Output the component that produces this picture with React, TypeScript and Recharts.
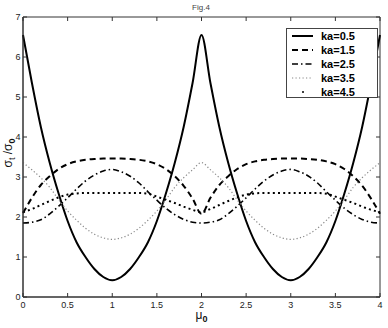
import React from 'react';
import { LineChart, Line, XAxis, YAxis, ReferenceArea } from 'recharts';

// mu_0 samples
const mu = [
  0, 0.1, 0.2, 0.3, 0.4, 0.5, 0.6, 0.7, 0.8, 0.9, 1.0,
  1.1, 1.2, 1.3, 1.4, 1.5, 1.6, 1.7, 1.8, 1.9, 2.0,
  2.1, 2.2, 2.3, 2.4, 2.5, 2.6, 2.7, 2.8, 2.9, 3.0,
  3.1, 3.2, 3.3, 3.4, 3.5, 3.6, 3.7, 3.8, 3.9, 4.0,
];

// sigma_t / sigma_0 for each ka
const ka05 = [
  6.55, 5.35, 4.25, 3.35, 2.58, 1.9, 1.37, 1.0, 0.7, 0.5, 0.42,
  0.5, 0.7, 1.0, 1.37, 1.9, 2.58, 3.35, 4.25, 5.35, 6.55,
  5.35, 4.25, 3.35, 2.58, 1.9, 1.37, 1.0, 0.7, 0.5, 0.42,
  0.5, 0.7, 1.0, 1.37, 1.9, 2.58, 3.35, 4.25, 5.35, 6.55,
];
const ka15 = [
  2.1, 2.48, 2.8, 3.02, 3.2, 3.32, 3.39, 3.43, 3.45, 3.46, 3.46,
  3.46, 3.45, 3.43, 3.39, 3.32, 3.2, 3.02, 2.78, 2.46, 2.08,
  2.48, 2.8, 3.02, 3.2, 3.32, 3.39, 3.43, 3.45, 3.46, 3.46,
  3.46, 3.45, 3.43, 3.39, 3.32, 3.2, 3.02, 2.78, 2.46, 2.08,
];
const ka25 = [
  1.85, 1.87, 1.93, 2.08, 2.27, 2.48, 2.7, 2.9, 3.05, 3.15, 3.19,
  3.13, 3.02, 2.85, 2.63, 2.42, 2.22, 2.06, 1.94, 1.87, 1.85,
  1.87, 1.93, 2.08, 2.27, 2.48, 2.7, 2.9, 3.05, 3.15, 3.19,
  3.13, 3.02, 2.85, 2.63, 2.42, 2.22, 2.06, 1.94, 1.87, 1.85,
];
const ka35 = [
  3.36, 3.18, 2.98, 2.74, 2.43, 2.15, 1.92, 1.72, 1.57, 1.48, 1.44,
  1.48, 1.57, 1.72, 1.92, 2.15, 2.43, 2.74, 2.98, 3.18, 3.36,
  3.18, 2.98, 2.74, 2.43, 2.15, 1.92, 1.72, 1.57, 1.48, 1.44,
  1.48, 1.57, 1.72, 1.92, 2.15, 2.43, 2.74, 2.98, 3.18, 3.36,
];
const ka45 = [
  2.12, 2.2, 2.3, 2.4, 2.49, 2.56, 2.59, 2.6, 2.6, 2.6, 2.6,
  2.6, 2.6, 2.6, 2.58, 2.51, 2.43, 2.35, 2.26, 2.18, 2.12,
  2.2, 2.3, 2.4, 2.49, 2.56, 2.59, 2.6, 2.6, 2.6, 2.6,
  2.6, 2.6, 2.6, 2.58, 2.51, 2.43, 2.35, 2.26, 2.18, 2.12,
];

const xTicks = [0, 0.5, 1, 1.5, 2, 2.5, 3, 3.5, 4];
const yTicks = [0, 1, 2, 3, 4, 5, 6, 7];

const data = mu.map((m, i) => ({
  mu: m,
  ka05: ka05[i],
  ka15: ka15[i],
  ka25: ka25[i],
  ka35: ka35[i],
  ka45: ka45[i],
}));

const W = 388;
const H = 328;
const margin = { top: 17, right: 8, bottom: 0, left: 0 };
const Y_AXIS_W = 23;
const X_AXIS_H = 31;
const PLOT_TOP = margin.top;
const PLOT_BOTTOM = H - margin.bottom - X_AXIS_H;
const PLOT_LEFT = margin.left + Y_AXIS_W;
const PLOT_RIGHT = W - margin.right;
const FONT = '"Liberation Sans", Arial, sans-serif';

const series = [
  { key: 'ka05', name: 'ka=0.5', stroke: '#000', width: 2, dash: undefined },
  { key: 'ka15', name: 'ka=1.5', stroke: '#000', width: 2, dash: '6 4' },
  { key: 'ka25', name: 'ka=2.5', stroke: '#000', width: 1.6, dash: '6 3 1.5 3' },
  { key: 'ka35', name: 'ka=3.5', stroke: '#888', width: 1.2, dash: '1.2 2.3' },
  { key: 'ka45', name: 'ka=4.5', stroke: '#000', width: 2, dash: '2 3.2' },
];

const XTick: React.FC<any> = ({ x, payload }) => (
  <g>
    <line x1={x} y1={PLOT_BOTTOM} x2={x} y2={PLOT_BOTTOM - 4} stroke="#333" />
    <line x1={x} y1={PLOT_TOP} x2={x} y2={PLOT_TOP + 4} stroke="#333" />
    <text x={x} y={PLOT_BOTTOM + 10.5} textAnchor="middle" fontSize={9} fill="#222" fontFamily={FONT}>
      {payload.value}
    </text>
  </g>
);

const YTick: React.FC<any> = ({ y, payload }) => (
  <g>
    <line x1={PLOT_LEFT} y1={y} x2={PLOT_LEFT + 4} y2={y} stroke="#333" />
    <line x1={PLOT_RIGHT} y1={y} x2={PLOT_RIGHT - 4} y2={y} stroke="#333" />
    <text x={PLOT_LEFT - 2.5} y={y + 3} textAnchor="end" fontSize={9} fill="#222" fontFamily={FONT}>
      {payload.value}
    </text>
  </g>
);

const XLabel = () => (
  <text x={(PLOT_LEFT + PLOT_RIGHT) / 2} y={H - 9} textAnchor="middle" fontSize={12} fill="#111" fontFamily={FONT}>
    μ<tspan fontSize={9} fontWeight="bold" dy={3}>0</tspan>
  </text>
);

const YLabel = () => (
  <text
    x={12}
    y={153}
    transform="rotate(-90, 12, 153)"
    textAnchor="middle"
    fontSize={12}
    fill="#111"
    fontFamily={FONT}
  >
    σ<tspan fontSize={9} dy={3}>t</tspan>
    <tspan dy={-3}> /σ</tspan>
    <tspan fontSize={9} fontWeight="bold" dy={3}>0</tspan>
  </text>
);

const LegendBox = () => (
  <div
    style={{
      position: 'absolute',
      left: 286,
      top: 28,
      width: 90,
      height: 68,
      border: '1px solid #444',
      background: '#fff',
      fontFamily: FONT,
    }}
  >
    {series.map((s, i) => (
      <div
        key={s.key}
        style={{ position: 'absolute', left: 0, top: i * 14, height: 14, display: 'flex', alignItems: 'center' }}
      >
        <svg width={32} height={14} style={{ display: 'block' }}>
          {s.key === 'ka45' ? (
            <circle cx={16} cy={7} r={1} fill="#000" />
          ) : (
            <line x1={5} y1={7} x2={26} y2={7} stroke={s.stroke} strokeWidth={s.width} strokeDasharray={s.dash} />
          )}
        </svg>
        <span style={{ fontSize: 11, fontWeight: 'bold', color: '#000', marginLeft: 2, lineHeight: '14px' }}>
          {s.name}
        </span>
      </div>
    ))}
  </div>
);

export default function App() {
  return (
    <div style={{ position: 'absolute', left: 0, top: 0, width: W, height: H, background: '#fff' }}>
      <div
        style={{
          position: 'absolute',
          left: 0,
          top: 3,
          width: W,
          textAlign: 'center',
          fontSize: 8,
          color: '#444',
          fontFamily: FONT,
          paddingLeft: 14,
          boxSizing: 'border-box',
        }}
      >
        Fig.4
      </div>
      <LineChart width={W} height={H} data={data} margin={margin}>
        <XAxis
          dataKey="mu"
          type="number"
          domain={[0, 4]}
          ticks={xTicks}
          interval={0}
          height={X_AXIS_H}
          axisLine={{ stroke: '#333' }}
          tickLine={false}
          tick={<XTick />}
          label={<XLabel />}
        />
        <YAxis
          type="number"
          domain={[0, 7]}
          ticks={yTicks}
          interval={0}
          width={Y_AXIS_W}
          axisLine={{ stroke: '#333' }}
          tickLine={false}
          tick={<YTick />}
          label={<YLabel />}
        />
        {series.map((s) => (
          <Line
            key={s.key}
            type="monotone"
            dataKey={s.key}
            stroke={s.stroke}
            strokeWidth={s.width}
            strokeDasharray={s.dash}
            dot={false}
            activeDot={false}
            isAnimationActive={false}
          />
        ))}
        <ReferenceArea x1={0} x2={4} y1={0} y2={7} fill="none" stroke="#333" strokeWidth={1} />
      </LineChart>
      <LegendBox />
    </div>
  );
}
